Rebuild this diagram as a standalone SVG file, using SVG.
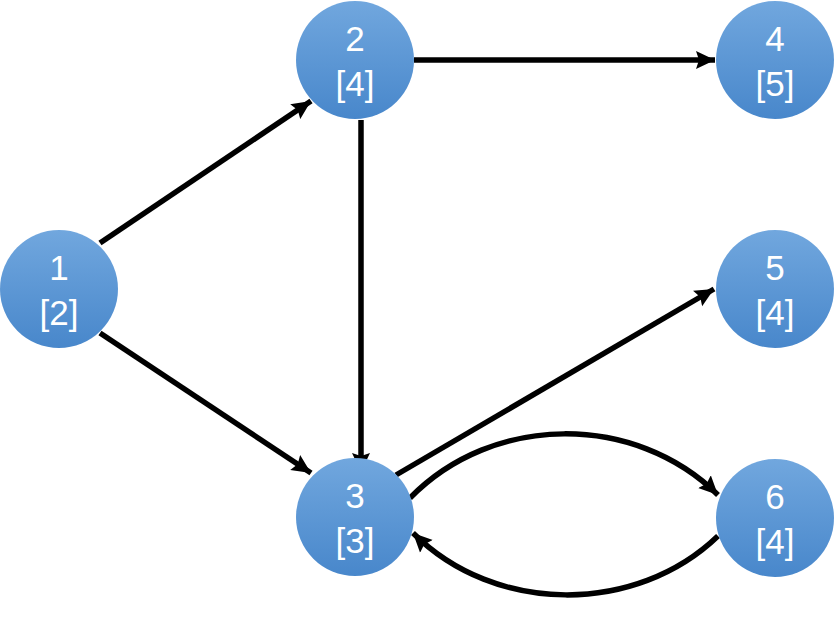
<svg xmlns="http://www.w3.org/2000/svg" width="834" height="620" viewBox="0 0 834 620">
<defs>
<linearGradient id="g" x1="0" y1="0" x2="0" y2="1">
<stop offset="0" stop-color="#71a7de"/>
<stop offset="1" stop-color="#4887cb"/>
</linearGradient>
<marker id="a" markerUnits="userSpaceOnUse" markerWidth="22" markerHeight="20" refX="19" refY="9" orient="auto" viewBox="0 0 22 18">
<path d="M0,0 L19,9 L0,18 L3,9 z" fill="#000"/>
</marker>
<style>
.n circle{fill:url(#g);}
.n text{fill:#fff;font-family:"Liberation Sans","DejaVu Sans",sans-serif;font-size:35px;text-anchor:middle;}
.e path,.e line{stroke:#000;stroke-width:5.5;fill:none;marker-end:url(#a);}
</style>
</defs>
<g id="edges" class="e">
<line x1="100" y1="243" x2="311" y2="101"/>
<line x1="100" y1="333" x2="311" y2="473"/>
<line x1="414" y1="60" x2="715" y2="60"/>
<line x1="361" y1="120" x2="361" y2="472"/>
<line x1="396" y1="475" x2="714" y2="289"/>
<path d="M410,498 C493,413 635,413 718,495"/>
<path d="M718,536 C636,615 495,615 413,533"/>
</g>
<g id="n1" class="n"><circle cx="59" cy="289" r="59"/><text x="59" y="280">1</text><text x="59" y="325">[2]</text></g>
<g id="n2" class="n"><circle cx="355" cy="60" r="59"/><text x="355" y="51">2</text><text x="355" y="96">[4]</text></g>
<g id="n3" class="n"><circle cx="355" cy="517" r="59"/><text x="355" y="508">3</text><text x="355" y="553">[3]</text></g>
<g id="n4" class="n"><circle cx="775" cy="60" r="59"/><text x="775" y="51">4</text><text x="775" y="96">[5]</text></g>
<g id="n5" class="n"><circle cx="775" cy="289" r="59"/><text x="775" y="280">5</text><text x="775" y="325">[4]</text></g>
<g id="n6" class="n"><circle cx="775" cy="518" r="59"/><text x="775" y="509">6</text><text x="775" y="554">[4]</text></g>
</svg>
